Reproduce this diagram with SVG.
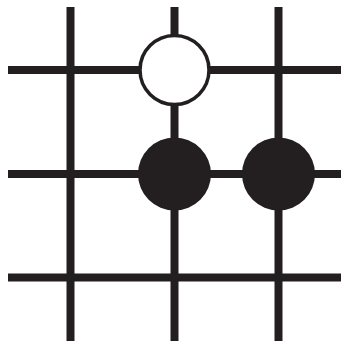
<svg xmlns="http://www.w3.org/2000/svg" width="341" height="341" viewBox="0 0 341 341">
<style>
.ln{stroke:#231f20;stroke-width:8;fill:none}
.blk{fill:#231f20}
.wht{fill:#fff;stroke:#231f20;stroke-width:3.5}
</style>
<rect width="341" height="341" fill="#fff"/>
<g id="grid">
<line class="ln" x1="70.5" y1="7" x2="70.5" y2="341"/>
<line class="ln" x1="174.5" y1="7" x2="174.5" y2="341"/>
<line class="ln" x1="278.5" y1="7" x2="278.5" y2="341"/>
<line class="ln" x1="8" y1="70" x2="341" y2="70"/>
<line class="ln" x1="8" y1="174" x2="341" y2="174"/>
<line class="ln" x1="8" y1="277.5" x2="341" y2="277.5"/>
</g>
<g id="white-stone"><circle class="wht" cx="174.5" cy="70" r="34.5"/></g>
<g id="black-stone-1"><circle class="blk" cx="174.5" cy="174" r="36.5"/></g>
<g id="black-stone-2"><circle class="blk" cx="278.5" cy="174" r="36.5"/></g>
</svg>
